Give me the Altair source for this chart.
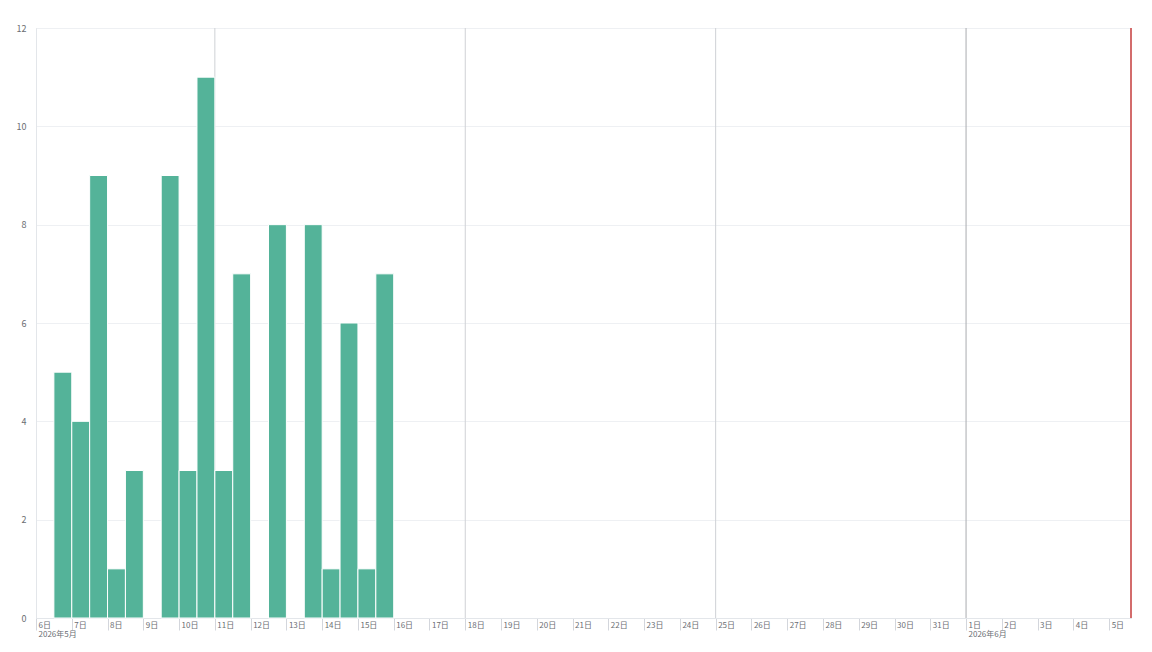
import altair as alt
import pandas as pd

# 12-hour bins (start times) and counts
bin_starts = [
    "2026-05-06T12:00:00", "2026-05-07T00:00:00", "2026-05-07T12:00:00",
    "2026-05-08T00:00:00", "2026-05-08T12:00:00", "2026-05-09T00:00:00",
    "2026-05-09T12:00:00", "2026-05-10T00:00:00", "2026-05-10T12:00:00",
    "2026-05-11T00:00:00", "2026-05-11T12:00:00", "2026-05-12T00:00:00",
    "2026-05-12T12:00:00", "2026-05-13T00:00:00", "2026-05-13T12:00:00",
    "2026-05-14T00:00:00", "2026-05-14T12:00:00", "2026-05-15T00:00:00",
    "2026-05-15T12:00:00",
]
bin_ends = [
    "2026-05-07T00:00:00", "2026-05-07T12:00:00", "2026-05-08T00:00:00",
    "2026-05-08T12:00:00", "2026-05-09T00:00:00", "2026-05-09T12:00:00",
    "2026-05-10T00:00:00", "2026-05-10T12:00:00", "2026-05-11T00:00:00",
    "2026-05-11T12:00:00", "2026-05-12T00:00:00", "2026-05-12T12:00:00",
    "2026-05-13T00:00:00", "2026-05-13T12:00:00", "2026-05-14T00:00:00",
    "2026-05-14T12:00:00", "2026-05-15T00:00:00", "2026-05-15T12:00:00",
    "2026-05-16T00:00:00",
]
counts = [5, 4, 9, 1, 3, 0, 9, 3, 11, 3, 7, 0, 8, 0, 8, 1, 6, 1, 7]

week_lines = ["2026-05-11T00:00:00", "2026-05-18T00:00:00", "2026-05-25T00:00:00"]
month_lines = ["2026-06-01T00:00:00"]
now_line = ["2026-06-05T14:40:00"]

bars_df = pd.DataFrame({"start": bin_starts, "end": bin_ends, "count": counts})
bars_df = bars_df[bars_df["count"] > 0]
lines_df = pd.DataFrame({
    "t": week_lines + month_lines,
    "kind": ["week"] * len(week_lines) + ["month"] * len(month_lines),
})
now_df = pd.DataFrame({"t": now_line})

FONT = "Noto Sans CJK JP"

x_scale = alt.Scale(
    domain=[alt.DateTime(year=2026, month=5, date=6, hours=0),
            alt.DateTime(year=2026, month=6, date=5, hours=14, minutes=40)],
    nice=False,
)
y_scale = alt.Scale(domain=[0, 12], nice=False)

x_axis = alt.Axis(
    title=None,
    grid=False,
    tickCount={"interval": "day", "step": 1},
    tickSize=12,
    tickColor="#d3d6dc",
    domainColor="#e3e6ea",
    labelExpr="(datum.index == 0 || date(datum.value) == 1) ? [timeFormat(datum.value, '%-d日'), timeFormat(datum.value, '%Y年%-m月')] : timeFormat(datum.value, '%-d日')",
    labelAlign="left",
    labelBaseline="top",
    labelPadding=-9,
    labelOffset=2,
    labelFontSize=8,
    labelLineHeight=9,
    labelColor="#6b6e73",
    labelFont=FONT,
    labelFlush=False,
    labelOverlap=False,
)

y_axis = alt.Axis(
    title=None,
    values=[0, 2, 4, 6, 8, 10, 12],
    grid=True,
    gridColor="#eef0f3",
    ticks=False,
    domainColor="#e3e6ea",
    labelFontSize=9,
    labelColor="#6b6e73",
    labelFont=FONT,
    labelPadding=10,
)

bars = alt.Chart(bars_df).mark_bar(
    color="#54b399", stroke="white", strokeWidth=1
).encode(
    x=alt.X("start:T", scale=x_scale, axis=x_axis),
    x2="end:T",
    y=alt.Y("count:Q", scale=y_scale, axis=y_axis),
    y2=alt.datum(0),
)

rules = alt.Chart(lines_df).mark_rule(strokeWidth=1).encode(
    x=alt.X("t:T", scale=x_scale),
    color=alt.Color("kind:N", scale=alt.Scale(domain=["week", "month"],
                                                range=["#cfd1d5", "#a9abb0"]),
                    legend=None),
)

now_rule = alt.Chart(now_df).mark_rule(strokeWidth=2, color="#d36c6c").encode(
    x=alt.X("t:T", scale=x_scale),
)

chart = alt.layer(rules, bars, now_rule).properties(
    width=1095,
    height=590,
    autosize=alt.AutoSizeParams(type="none"),
    padding={"left": 28, "top": 20, "right": 13, "bottom": 26},
).configure_view(strokeWidth=0).configure(font=FONT)

chart.save("out.html", embed_options={"renderer": "svg", "actions": False})
